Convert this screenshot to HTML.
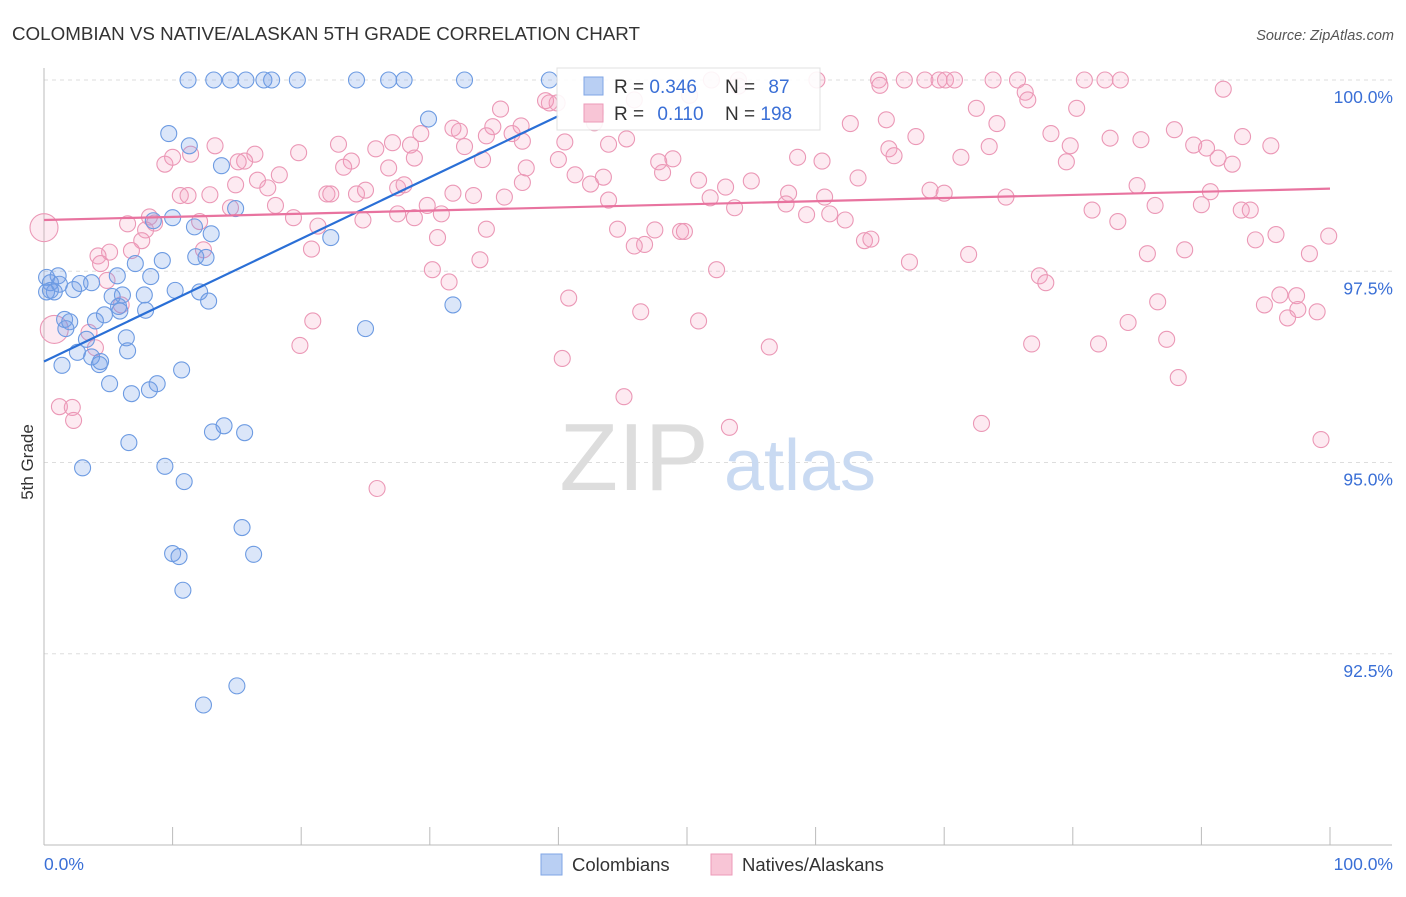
<!DOCTYPE html>
<html><head><meta charset="utf-8"><style>
body{margin:0;background:#fff;font-family:"Liberation Sans",sans-serif}
svg text{font-family:"Liberation Sans",sans-serif}
</style></head><body>
<svg width="1406" height="892" viewBox="0 0 1406 892" xmlns="http://www.w3.org/2000/svg">
<text x="12" y="40" font-size="18" fill="#333" textLength="628" lengthAdjust="spacingAndGlyphs">COLOMBIAN VS NATIVE/ALASKAN 5TH GRADE CORRELATION CHART</text>
<text x="1394" y="40" font-size="14.5" fill="#555" font-style="italic" text-anchor="end">Source: ZipAtlas.com</text>
<g id="grid"></g>
<g><text x="634" y="490" font-size="96" fill="#ddd" text-anchor="middle" font-family="Liberation Serif">ZIP</text><text x="800" y="490" font-size="72" fill="#c9daf2" text-anchor="middle">atlas</text></g>
<g id="axes"></g>
<text x="33" y="462" font-size="17" fill="#333" text-anchor="middle" transform="rotate(-90 33 462)">5th Grade</text>
<g id="pink"></g>
<g id="blue"></g>
<g id="lines"></g>
<g>
<rect x="557" y="68" width="263" height="62" fill="#fff" stroke="#ddd" opacity="0.9"/>
<rect x="584" y="77" width="19" height="18" fill="#b9cff3" stroke="#7fa5e6"/>
<rect x="584" y="104" width="19" height="18" fill="#f8c5d6" stroke="#ec9ab8"/>
<text x="614" y="93" font-size="19" fill="#333">R = <tspan fill="#3a6fd6">0.346</tspan></text>
<text x="725" y="93" font-size="19" fill="#333">N = <tspan fill="#3a6fd6" dx="8">87</tspan></text>
<text x="614" y="120" font-size="19" fill="#333">R = <tspan fill="#3a6fd6" dx="8">0.110</tspan></text>
<text x="725" y="120" font-size="19" fill="#333">N = <tspan fill="#3a6fd6">198</tspan></text>
</g>
<g>
<rect x="541" y="854" width="21" height="21" fill="#b9cff3" stroke="#7fa5e6"/>
<text x="572" y="871" font-size="18.5" fill="#333">Colombians</text>
<rect x="711" y="854" width="21" height="21" fill="#f8c5d6" stroke="#ec9ab8"/>
<text x="742" y="871" font-size="18.5" fill="#333">Natives/Alaskans</text>
</g>
</svg>
<script>
const yTicks=[100,97.5,95,92.5];
const yTickLabels=["100.0%","97.5%","95.0%","92.5%"];
const xTickVals=[0,10,20,30,40,50,60,70,80,90,100];
const blueX=[11.2,13.2,14.5,15.7,17.1,17.7,19.7,24.3,26.8,28.0,32.7,39.3,29.9,9.7,11.3,13.8,14.9,8.5,10.0,11.7,13.0,22.3,11.8,12.6,9.2,7.1,0.2,1.1,0.5,0.8,0.2,2.3,2.8,3.7,5.7,8.3,10.2,12.1,12.8,5.3,6.1,7.8,5.8,5.9,7.9,4.7,1.6,2.0,1.7,4.0,3.3,6.4,6.5,2.6,1.4,3.7,4.4,4.3,25.0,31.8,5.1,6.8,8.2,8.8,10.7,14.0,13.1,15.6,6.6,3.0,9.4,10.9,15.4,10.0,10.5,16.3,10.8,15.0,12.4,0.5,1.2];
const blueY=[100,100,100,100,100,100,100,100,100,100,100,100,99.49,99.30,99.14,98.88,98.32,98.16,98.20,98.08,97.99,97.94,97.69,97.68,97.64,97.60,97.42,97.44,97.35,97.23,97.23,97.26,97.34,97.35,97.44,97.43,97.25,97.23,97.11,97.17,97.19,97.19,97.04,96.98,96.99,96.93,96.87,96.84,96.75,96.85,96.61,96.63,96.46,96.44,96.27,96.38,96.32,96.28,96.75,97.06,96.03,95.90,95.95,96.03,96.21,95.48,95.40,95.39,95.26,94.93,94.95,94.75,94.15,93.81,93.77,93.80,93.33,92.08,91.83,97.25,97.33];
const pinkX=[51.9,54.0,60.1,64.9,66.9,68.5,69.6,70.1,70.8,73.8,75.7,80.9,82.5,83.7,39.3,39.9,39.0,35.5,42.9,42.8,45.9,50.2,54.0,65.0,76.3,91.7,76.5,72.5,80.3,74.1,65.5,62.7,67.8,78.3,82.9,87.9,85.3,93.2,95.4,89.4,90.4,91.3,92.4,79.8,79.5,73.5,71.3,65.7,66.1,60.5,58.6,48.9,47.8,48.1,45.3,43.9,40.5,37.2,37.1,34.9,36.4,34.4,32.3,31.8,32.7,29.3,27.1,28.5,28.8,25.8,22.9,23.9,23.3,19.8,16.4,15.6,15.1,13.3,11.4,9.4,10.0,10.6,11.2,12.9,14.9,16.6,17.4,18.3,18.0,14.5,19.4,22.0,22.3,24.3,25.0,24.8,27.5,26.8,28.0,29.8,30.9,33.4,37.2,37.5,35.8,41.3,42.5,43.5,40.0,50.9,51.8,53.0,55.0,53.7,57.9,57.7,60.7,59.3,61.1,62.3,63.3,63.8,64.3,68.9,70.0,74.8,81.5,85.0,86.4,90.0,90.7,93.1,93.8,83.5,94.2,95.8,99.9,85.8,88.7,98.4,71.9,67.3,77.4,77.9,86.6,94.9,96.1,97.4,97.5,96.7,99.0,84.3,87.3,82.0,76.8,88.2,72.9,99.3,52.3,46.7,45.9,44.6,47.5,49.5,49.8,43.9,40.8,46.4,50.9,56.4,40.3,45.1,53.3,25.9,19.9,20.9,30.6,30.2,31.5,33.9,34.4,31.8,34.1,28.8,27.5,21.3,20.8,12.1,12.4,8.6,8.2,7.9,7.6,6.8,5.1,4.2,0.0,0.8,1.2,2.2,2.3,4.0,4.4,4.9,6.0,3.5,6.5];
const pinkY=[100,100,100,100,100,100,100,100,100,100,100,100,100,100,99.70,99.70,99.73,99.62,99.58,99.44,99.74,99.80,99.92,99.93,99.84,99.88,99.74,99.63,99.63,99.43,99.48,99.43,99.26,99.30,99.24,99.35,99.22,99.26,99.14,99.15,99.11,98.98,98.90,99.14,98.93,99.13,98.99,99.10,99.01,98.94,98.99,98.97,98.93,98.79,99.23,99.16,99.19,99.20,99.40,99.39,99.30,99.27,99.33,99.37,99.13,99.30,99.18,99.15,98.98,99.10,99.16,98.94,98.86,99.05,99.03,98.94,98.93,99.14,99.03,98.90,98.99,98.49,98.49,98.50,98.63,98.69,98.59,98.76,98.36,98.33,98.20,98.51,98.51,98.51,98.56,98.17,98.59,98.85,98.63,98.36,98.25,98.49,98.66,98.85,98.47,98.76,98.64,98.73,98.96,98.69,98.46,98.60,98.68,98.33,98.52,98.38,98.47,98.24,98.25,98.17,98.72,97.90,97.92,98.56,98.52,98.47,98.30,98.62,98.36,98.37,98.54,98.30,98.30,98.15,97.91,97.98,97.96,97.73,97.78,97.73,97.72,97.62,97.44,97.35,97.10,97.06,97.19,97.18,97.00,96.89,96.97,96.83,96.61,96.55,96.55,96.11,95.51,95.30,97.52,97.85,97.83,98.05,98.04,98.02,98.02,98.43,97.15,96.97,96.85,96.51,96.36,95.86,95.46,94.66,96.53,96.85,97.94,97.52,97.36,97.65,98.05,98.52,98.96,98.20,98.25,98.09,97.79,98.15,97.78,98.13,98.21,98.04,97.90,97.77,97.75,97.70,98.07,96.74,95.73,95.72,95.55,96.50,97.60,97.38,97.06,96.70,98.12];
const blueTrend=[[0,96.32],[40,99.53]];
const pinkTrend=[[0,98.17],[100,98.58]];
const NS="http://www.w3.org/2000/svg";
const X0=44,X1=1330,YB=845,YT=80;
function sx(v){return X0+(v/100)*(X1-X0);}
function sy(v){return YB-(v-90)/10*(YB-YT);}
function mk(tag,attrs,parent){const e=document.createElementNS(NS,tag);for(const k in attrs)e.setAttribute(k,attrs[k]);parent.appendChild(e);return e;}
const grid=document.getElementById('grid'),axes=document.getElementById('axes');
yTicks.forEach((t,i)=>{
 const l=mk('line',{x1:X0,x2:1392,y1:sy(t),y2:sy(t),stroke:'#ddd','stroke-dasharray':'4,4'},grid);
 
 
 const tx=mk('text',{x:1393,y:sy(t)+23,'font-size':17.5,fill:'#3a6fd6','text-anchor':'end'},axes);
 tx.textContent=yTickLabels[i];
 
 
});
const ax=mk('line',{x1:X0,x2:1392,y1:YB,y2:YB,stroke:'#bbb'},axes);


const ay=mk('line',{x1:X0,x2:X0,y1:68,y2:YB,stroke:'#bbb'},axes);


xTickVals.forEach(v=>{
 const t=mk('line',{x1:sx(v),x2:sx(v),y1:YB,y2:YB-18,stroke:'#bbb'},axes);
 
 
});
const xl=mk('text',{x:44,y:870,'font-size':17.5,fill:'#3a6fd6'},axes);xl.textContent='0.0%';


const xr=mk('text',{x:1393,y:870,'font-size':17.5,fill:'#3a6fd6','text-anchor':'end'},axes);xr.textContent='100.0%';


const pg=document.getElementById('pink');
pinkX.forEach((x,i)=>{
 const big=(x<1&&(pinkY[i]>98||pinkY[i]<96.8&&pinkY[i]>96.6));
 const c=mk('circle',{cx:sx(x),cy:sy(pinkY[i]),r:big?14:8,fill:'rgba(244,160,190,0.22)',stroke:'#eb98b6','stroke-width':1.1},pg);
 
 
});
const bg=document.getElementById('blue');
blueX.forEach((x,i)=>{
 const c=mk('circle',{cx:sx(x),cy:sy(blueY[i]),r:8,fill:'rgba(110,155,230,0.25)',stroke:'#6d9be2','stroke-width':1.1},bg);
 
 
});
const lg=document.getElementById('lines');
const bl=mk('line',{x1:sx(blueTrend[0][0]),y1:sy(blueTrend[0][1]),x2:sx(blueTrend[1][0]),y2:sy(blueTrend[1][1]),stroke:'#2a6fd6','stroke-width':2.2},lg);


const pl=mk('line',{x1:sx(pinkTrend[0][0]),y1:sy(pinkTrend[0][1]),x2:sx(pinkTrend[1][0]),y2:sy(pinkTrend[1][1]),stroke:'#e8739f','stroke-width':2.2},lg);


</script>
</body></html>
